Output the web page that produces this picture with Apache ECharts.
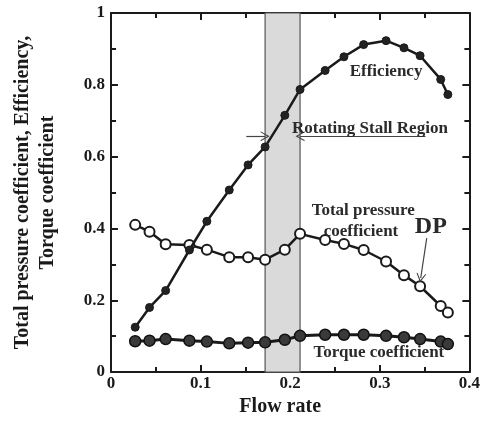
<!DOCTYPE html>
<html>
<head>
<meta charset="utf-8">
<script src="https://cdn.jsdelivr.net/npm/echarts@6/dist/echarts.min.js"></script>
<style>
  html, body { margin: 0; padding: 0; background: #fff; }
  #chart { width: 483px; height: 422px; }
</style>
</head>
<body>
<div id="chart"></div>
<script>
// values
const flowRate = [0.027, 0.043, 0.061, 0.0875, 0.107, 0.132, 0.153, 0.172, 0.194, 0.211, 0.239, 0.26, 0.282, 0.307, 0.327, 0.345, 0.368, 0.376];
const efficiency = [0.125, 0.18, 0.227, 0.34, 0.42, 0.507, 0.577, 0.627, 0.715, 0.787, 0.84, 0.878, 0.912, 0.923, 0.903, 0.881, 0.815, 0.773];
const pressureCoef = [0.41, 0.391, 0.356, 0.354, 0.341, 0.32, 0.32, 0.313, 0.341, 0.385, 0.368, 0.357, 0.34, 0.308, 0.27, 0.239, 0.184, 0.166];
const torqueCoef = [0.086, 0.0875, 0.092, 0.0875, 0.085, 0.08, 0.082, 0.083, 0.09, 0.101, 0.104, 0.104, 0.104, 0.101, 0.097, 0.092, 0.085, 0.078];

const xTicks = [0, 0.1, 0.2, 0.3, 0.4];
const yTicks = [0, 0.2, 0.4, 0.6, 0.8, 1];
const stallRegion = [0.172, 0.211];
const stallArrowY = 0.657;

const font = "'Liberation Serif', 'DejaVu Serif', serif";
const ink = '#1a1a1a';

const pairs = (ys) => flowRate.map((x, i) => [x, ys[i]]);
const fmt = (v) => (v === 0 ? '0' : v === 1 ? '1' : v.toFixed(1));

// an open "V" arrowhead, tip pointing up (echarts rotates it along the line)
const chevron = 'path://M0,9 L5,0 L10,9 L8.8,9 L5,2.4 L1.2,9 Z';

const axisCommon = {
  type: 'value',
  axisLine: { show: true, onZero: false, lineStyle: { color: ink, width: 2 } },
  axisTick: { show: true, inside: true, length: 7, lineStyle: { color: ink, width: 2 } },
  minorTick: { show: true, splitNumber: 2, length: 5, lineStyle: { color: ink, width: 2 } },
  splitLine: { show: false }
};

const labelText = (x, y, text, size) => ({
  coord: [x, y],
  symbol: 'circle',
  symbolSize: 0,
  label: {
    show: true, position: 'inside', formatter: text,
    fontFamily: font, fontWeight: 'bold', fontSize: size || 17, color: '#2a2a2a'
  }
});

const chart = echarts.init(document.getElementById('chart'));

chart.setOption({
  animation: false,
  backgroundColor: '#fff',
  grid: { left: 111, right: 11, top: 13, bottom: 47 },
  xAxis: [
    Object.assign({}, axisCommon, {
      min: xTicks[0], max: xTicks[xTicks.length - 1], interval: 0.1,
      position: 'bottom',
      name: 'Flow rate', nameLocation: 'middle', nameGap: 18,
      nameTextStyle: { fontFamily: font, fontWeight: 'bold', fontSize: 20, color: ink, padding: [0, 20, 0, 0] },
      axisLabel: { formatter: fmt, margin: 3, fontFamily: font, fontWeight: 'bold', fontSize: 17, color: ink }
    }),
    Object.assign({}, axisCommon, {
      min: xTicks[0], max: xTicks[xTicks.length - 1], interval: 0.1,
      position: 'top', axisLabel: { show: false }
    })
  ],
  yAxis: [
    Object.assign({}, axisCommon, {
      min: yTicks[0], max: yTicks[yTicks.length - 1], interval: 0.2,
      position: 'left',
      name: 'Total pressure coefficient, Efficiency,\nTorque coefficient',
      nameLocation: 'middle', nameGap: 51, nameRotate: 90,
      nameTextStyle: { fontFamily: font, fontWeight: 'bold', fontSize: 20, color: ink, lineHeight: 25 },
      axisLabel: { formatter: fmt, margin: 6, fontFamily: font, fontWeight: 'bold', fontSize: 17, color: ink }
    }),
    Object.assign({}, axisCommon, {
      min: yTicks[0], max: yTicks[yTicks.length - 1], interval: 0.2,
      position: 'right', axisLabel: { show: false }
    })
  ],
  series: [
    {
      name: 'Efficiency',
      type: 'line',
      data: pairs(efficiency),
      z: 5,
      symbol: 'circle', symbolSize: 8,
      lineStyle: { color: ink, width: 2.5 },
      itemStyle: { color: '#222', borderColor: ink, borderWidth: 1 },
      markArea: {
        silent: true,
        z: 1,
        itemStyle: { color: '#dadada', borderColor: '#555', borderWidth: 1.2 },
        data: [[{ xAxis: stallRegion[0] }, { xAxis: stallRegion[1] }]]
      },
      markLine: {
        silent: true,
        symbol: ['none', chevron],
        symbolSize: [10, 9],
        label: { show: false },
        lineStyle: { color: '#444', width: 1.2, type: 'solid' },
        data: [
          [{ coord: [0.151, stallArrowY] }, { coord: [stallRegion[0], stallArrowY] }],
          [{ coord: [0.351, stallArrowY] }, { coord: [stallRegion[1], stallArrowY] }],
          [{ coord: [0.3524, 0.373] }, { coord: [0.3457, 0.262] }]
        ]
      },
      markPoint: {
        silent: true,
        data: [
          labelText(0.307, 0.837, 'Efficiency'),
          labelText(0.289, 0.677, 'Rotating Stall Region'),
          labelText(0.2815, 0.45, 'Total pressure'),
          labelText(0.279, 0.392, 'coefficient'),
          labelText(0.357, 0.406, 'DP', 24),
          labelText(0.299, 0.055, 'Torque coefficient')
        ]
      }
    },
    {
      name: 'Total pressure coefficient',
      type: 'line',
      data: pairs(pressureCoef),
      z: 4,
      symbol: 'circle', symbolSize: 10,
      lineStyle: { color: ink, width: 2.5 },
      itemStyle: { color: '#fff', borderColor: ink, borderWidth: 2 }
    },
    {
      name: 'Torque coefficient',
      type: 'line',
      data: pairs(torqueCoef),
      z: 4,
      symbol: 'circle', symbolSize: 11,
      lineStyle: { color: ink, width: 3 },
      itemStyle: { color: '#3a3a3a', borderColor: '#111', borderWidth: 1.5 }
    }
  ]
});
</script>
</body>
</html>
